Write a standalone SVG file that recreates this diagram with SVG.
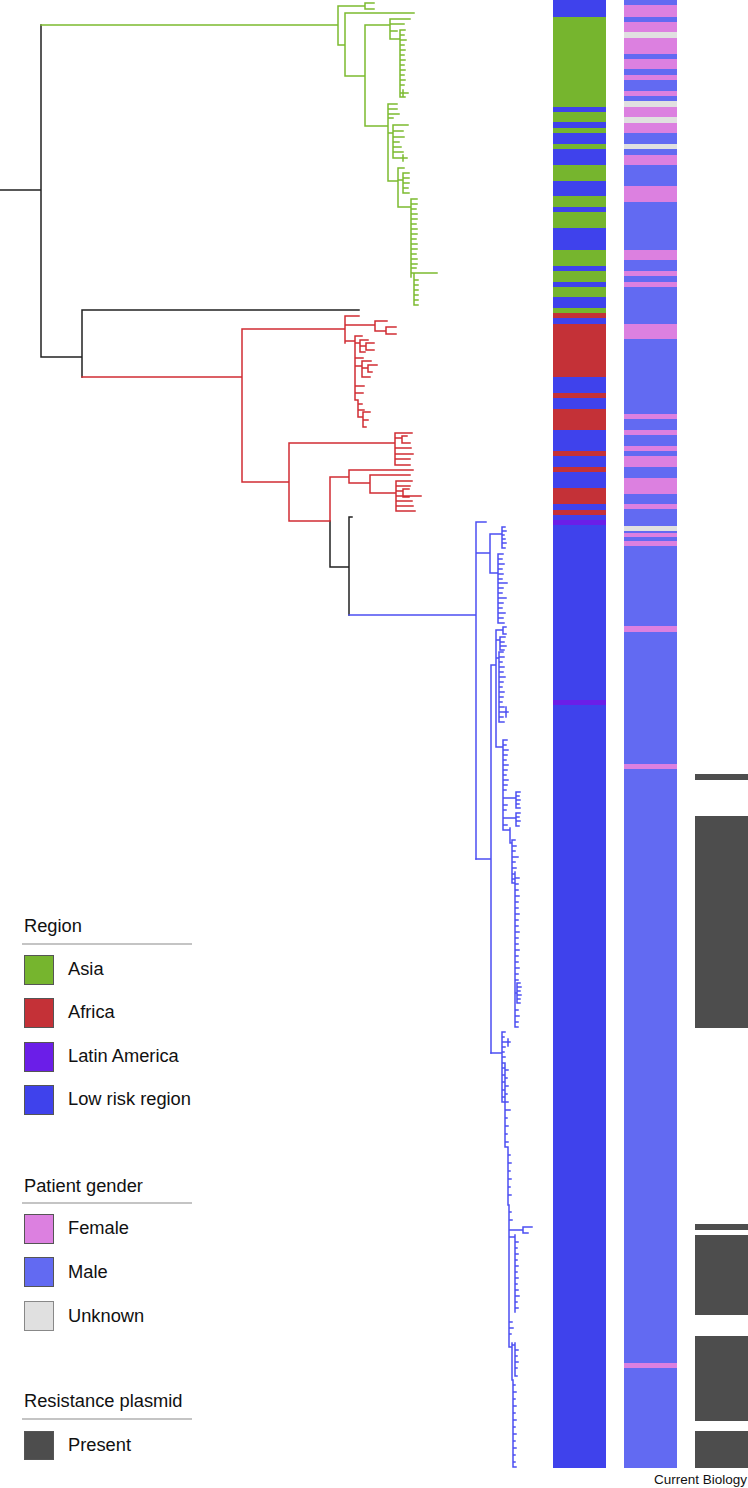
<svg xmlns="http://www.w3.org/2000/svg" width="748" height="1488" viewBox="0 0 748 1488">
<style>
.t{fill:none;stroke-width:1.5;stroke-linecap:square}
.bk{stroke:#222}
.gr{stroke:#7cbb2f}
.rd{stroke:#d12d33}
.bl{stroke:#4c4ff2}
.lab{font-family:"Liberation Sans",Arial,sans-serif;font-size:18.3px;fill:#111}
.rule{stroke:#8a8a8a;stroke-width:1.2}
.sw{stroke:#555;stroke-width:1}
.asia{fill:#76b52e}.afr{fill:#c43137}.lat{fill:#6b1ee8}.low{fill:#3f42ec}
.fem{fill:#dc80e0}.male{fill:#626af2}.unk{fill:#e0e0e0}.pres{fill:#4d4d4d}
</style>
<rect width="748" height="1488" fill="#fff"/>
<g id="connectors">
<path class="t bk" d="M0,190H41M41,25V357M41,357H82M82,310V377M82,310H359M330,521V567M330,567H349M349,517V615M349,517H352"/>
<path class="t gr" d="M41,25H338M338,6V45M338,6H365M365,3V9M365,3H374M365,9H374M338,45H345M345,13V76M345,13H414M345,76H365M365,25V126M365,25H390M390,19V39M390,19H410M390,24H404M390,31H397M390,39H400M400,30V97M400,30h5M400,35h4M400,40h6M400,45h4M400,50h5M400,55h4M400,60h5M400,65h4M400,70h5M400,75h4M400,80h5M400,85h4M400,93h8M403,90V97M400,97h5M365,126H388M388,104V181M388,104H397M388,109H397M388,114H399M388,118H393M388,133H393M393,125V158M393,125H408M393,131H403M393,137H404M393,142H399M393,147H401M393,152H403M393,158H407M403,155V161M388,181H398M398,168V207M398,168H404M398,180H403M403,173V193M403,173h6M403,178h6M403,183h6M403,188h5M403,193h6M398,207H411M411,199V277M411,199h6M411,204h6M411,209h5M411,214h6M411,219h6M411,224h5M411,229h6M411,234h6M411,239h5M411,244h6M411,249h6M411,254h5M411,259h6M411,264h6M411,268h5M411,273H437M414,273V305M414,280h4M414,285h4M414,290h4M414,295h4M414,300h4M414,305h4"/>
<path class="t rd" d="M82,377H242M242,329V482M242,329H345M345,316V343M345,316H359M345,325H375M375,321V331M375,321H387M375,331H386M386,327V334M386,327H396M386,334H396M345,341H355M355,336V400M355,336H362M355,343H360M360,340V352M360,340H368M360,346H366M366,343V350M366,343H374M366,350H374M360,352H365M355,358H363M355,366H362M362,361V377M362,361H371M362,368H368M368,365V372M368,365H377M368,372H372M362,377H370M355,386H364M355,393H363M355,400H358M358,400V417M358,404H362M358,410H364M358,417H363M363,412V427M363,412H370M363,420H368M363,427H366M242,482H289M289,443V521M289,443H395M395,433V465M395,433H412M395,438H402M402,436V443M402,436H407M402,443H410M395,448H411M395,454H413M395,459H410M395,465H410M289,521H330M330,477V521M330,477H349M349,470V483M349,470H413M349,483H370M370,475V493M370,475H410M370,493H396M396,481V511M396,481H412M396,486H410M396,491H403M403,489V497M403,489H409M403,497H409M396,496H421M396,501H412M396,506H413M396,511H415"/>
<path class="t bl" d="M349,615H476M476,522V859M476,522H486M476,553H490M490,534V573M490,534H502M502,527V548M502,527h3M502,531h4M502,535h2M502,539h3M502,543h4M502,548h3M490,573H498M498,554V623M498,554h5M498,559h4M498,564h6M498,569h4M498,574h5M498,579h4M498,583h9M498,588h5M498,593h4M498,598h8M498,603h5M498,608h4M498,613h7M498,618h5M498,623h6"/>
<path class="t bl" d="M476,859H491M491,665V1053M491,665H496M496,630V747M496,630H503M503,627V634M503,627h3M503,634h3M496,640H500M500,637V650M500,637h5M500,642h4M500,646h6M500,650h4M496,658H499M499,652V722M499,652h4M499,657h5M499,662h3M499,667h5M499,672h4M499,677h6M499,682h4M499,687h3M499,692h5M499,697h4M499,702h3M499,707h5M499,712h9M506,707V717M499,717h4M499,722h5M496,747H503M503,740V830M503,740h4M503,745h3M503,750h5M503,755h4M503,760h3M503,765h5M503,770h4M503,775h3M503,780h5M503,785h4M503,790h3M503,805h4M503,810h3M503,825h4M503,798H516M516,792V808M516,792h4M516,796h3M516,800h4M516,804h3M516,808h4M503,818H516M516,813V826M516,813h4M516,817h3M516,821h4M516,826h3M503,830H510M510,828V843M510,843H512M512,840V883M512,840h3M512,846h4M512,851h3M512,857h6M512,862h3M512,868h4M512,874h3M512,879h3M512,883H515M515,872V1027M515,878h4M515,884h3M515,890h3M515,896h4M515,902h3M515,908h3M515,914h4M515,920h3M515,926h3M515,932h4M515,938h3M515,944h3M515,950h4M515,956h3M515,962h3M515,968h4M515,974h3M515,980h3M515,1010h3M515,1016h4M515,1022h3M515,1027h3M515,993h2M517,983V1003M517,983h3M517,987h4M517,991h3M517,995h4M517,999h3M517,1003h3"/>
<path class="t bl" d="M491,1053H502M502,1032V1102M502,1032h3M502,1037h2M502,1042h8M508,1039V1046M502,1047h3M502,1052h2M502,1057h3M502,1068h3M502,1075h2M502,1082h3M502,1090h2M502,1097h3M502,1102h2M502,1063H505M505,1063V1147M505,1070h3M505,1078h2M505,1086h3M505,1094h2M505,1102h3M505,1110h5M505,1118h2M505,1126h3M505,1134h2M505,1142h3M505,1147H508M508,1147V1205M508,1155h2M508,1163h3M508,1171h2M508,1179h3M508,1187h2M508,1195h3M508,1205H509M509,1205V1347M509,1212h2M509,1220h3M509,1230H523M523,1227V1233M523,1227h9M523,1233h5M509,1237H515M515,1235V1312M515,1242h3M515,1248h2M515,1254h3M515,1260h2M515,1266h3M515,1272h2M515,1278h3M515,1284h2M515,1290h3M515,1296h4M515,1302h2M515,1308h3M509,1322h3M509,1328h4M509,1334h2M509,1347H512M512,1343V1380M512,1345H515M515,1343V1376M515,1350h3M515,1356h2M515,1362h3M515,1368h2M515,1376h2M512,1380H513M513,1380V1467M513,1385h2M513,1392h3M513,1399h2M513,1406h3M513,1413h2M513,1420h3M513,1427h2M513,1434h3M513,1441h2M513,1448h3M513,1455h2M513,1462h2M513,1467h3"/>
</g>
<g id="region-bar">
<rect class="low" x="553" y="0" width="53" height="1468"/>
<g class="asia">
<rect x="553" y="17" width="53" height="90"/><rect x="553" y="112" width="53" height="10"/><rect x="553" y="128" width="53" height="5"/><rect x="553" y="144" width="53" height="5"/><rect x="553" y="165" width="53" height="16"/><rect x="553" y="196" width="53" height="11"/><rect x="553" y="212" width="53" height="16"/><rect x="553" y="250" width="53" height="16"/><rect x="553" y="271" width="53" height="11"/><rect x="553" y="287" width="53" height="10"/><rect x="553" y="308" width="53" height="5"/>
</g>
<g class="afr">
<rect x="553" y="313" width="53" height="5"/><rect x="553" y="324" width="53" height="53"/><rect x="553" y="393" width="53" height="5"/><rect x="553" y="409" width="53" height="21"/><rect x="553" y="451" width="53" height="5"/><rect x="553" y="467" width="53" height="5"/><rect x="553" y="488" width="53" height="16"/><rect x="553" y="510" width="53" height="5"/>
</g>
<g class="lat">
<rect x="553" y="520" width="53" height="5"/><rect x="553" y="700" width="53" height="5"/>
</g>
</g>
<g id="gender-bar">
<rect class="male" x="624" y="0" width="53" height="1468"/>
<g class="fem">
<rect x="624" y="5" width="53" height="12"/><rect x="624" y="22" width="53" height="10"/><rect x="624" y="38" width="53" height="16"/><rect x="624" y="59" width="53" height="10"/><rect x="624" y="75" width="53" height="5"/><rect x="624" y="91" width="53" height="5"/><rect x="624" y="107" width="53" height="10"/><rect x="624" y="123" width="53" height="10"/><rect x="624" y="155" width="53" height="10"/><rect x="624" y="186" width="53" height="16"/><rect x="624" y="250" width="53" height="10"/><rect x="624" y="271" width="53" height="5"/><rect x="624" y="282" width="53" height="5"/><rect x="624" y="324" width="53" height="15"/><rect x="624" y="414" width="53" height="5"/><rect x="624" y="430" width="53" height="5"/><rect x="624" y="446" width="53" height="5"/><rect x="624" y="456" width="53" height="11"/><rect x="624" y="478" width="53" height="16"/><rect x="624" y="504" width="53" height="5"/><rect x="624" y="533" width="53" height="4"/><rect x="624" y="541" width="53" height="5"/><rect x="624" y="626" width="53" height="6"/><rect x="624" y="764" width="53" height="5"/><rect x="624" y="1363" width="53" height="5"/>
</g>
<g class="unk">
<rect x="624" y="32" width="53" height="6"/><rect x="624" y="101" width="53" height="6"/><rect x="624" y="117" width="53" height="6"/><rect x="624" y="144" width="53" height="5"/><rect x="624" y="526" width="53" height="5"/>
</g>
</g>
<g id="plasmid-bar" class="pres">
<rect x="695" y="774" width="53" height="6"/><rect x="695" y="816" width="53" height="212"/><rect x="695" y="1224" width="53" height="6"/><rect x="695" y="1235" width="53" height="80"/><rect x="695" y="1336" width="53" height="85"/><rect x="695" y="1431" width="53" height="37"/>
</g>
<g id="legend-region">
<text class="lab" x="24" y="932">Region</text>
<line class="rule" x1="22" y1="944" x2="192" y2="944"/>
<g id="leg-asia"><rect class="sw asia" x="24.5" y="955.5" width="29" height="29"/><text class="lab" x="68" y="975">Asia</text></g>
<g id="leg-africa"><rect class="sw afr" x="24.5" y="998.5" width="29" height="29"/><text class="lab" x="68" y="1018">Africa</text></g>
<g id="leg-latin"><rect class="sw lat" x="24.5" y="1042.5" width="29" height="29"/><text class="lab" x="68" y="1062">Latin America</text></g>
<g id="leg-low"><rect class="sw low" x="24.5" y="1085.5" width="29" height="29"/><text class="lab" x="68" y="1105">Low risk region</text></g>
</g>
<g id="legend-gender">
<text class="lab" x="24" y="1192">Patient gender</text>
<line class="rule" x1="22" y1="1203" x2="192" y2="1203"/>
<g id="leg-female"><rect class="sw fem" x="24.5" y="1214.5" width="29" height="29"/><text class="lab" x="68" y="1234">Female</text></g>
<g id="leg-male"><rect class="sw male" x="24.5" y="1257.5" width="29" height="29"/><text class="lab" x="68" y="1278">Male</text></g>
<g id="leg-unknown"><rect class="sw unk" x="24.5" y="1301.5" width="29" height="29" style="stroke:#888"/><text class="lab" x="68" y="1322">Unknown</text></g>
</g>
<g id="legend-plasmid">
<text class="lab" x="24" y="1407">Resistance plasmid</text>
<line class="rule" x1="22" y1="1419" x2="192" y2="1419"/>
<g id="leg-present"><rect class="sw pres" x="24.5" y="1431.5" width="29" height="28"/><text class="lab" x="68" y="1451">Present</text></g>
</g>
<text x="747" y="1484" text-anchor="end" style="font-family:'Liberation Sans',Arial,sans-serif;font-size:13.5px;fill:#111">Current Biology</text>
</svg>
